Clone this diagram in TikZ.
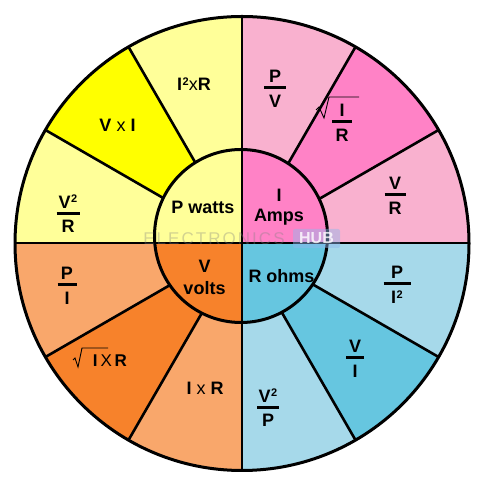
\documentclass[tikz,border=0pt]{standalone}
\usepackage{fontspec}
\setmainfont{Liberation Sans}
\definecolor{ylight}{HTML}{FFFF99}
\definecolor{ydark}{HTML}{FFFF00}
\definecolor{plight}{HTML}{F9B1CF}
\definecolor{pdark}{HTML}{FF82C6}
\definecolor{blight}{HTML}{A6D9EA}
\definecolor{bdark}{HTML}{66C6E0}
\definecolor{olight}{HTML}{F9A76B}
\definecolor{odark}{HTML}{F7822B}
\definecolor{wmblue}{HTML}{8EB8EE}
\newcommand\frc[3][22pt]{\vbox{\offinterlineskip\halign{\hfil##\hfil\cr #2\cr\noalign{\kern3.5pt}\rule{#1}{3pt}\cr\noalign{\kern6pt}#3\cr}}}
\newcommand\tx[1]{{\mdseries #1}}
\newcommand\sq{\kern0.6pt\raisebox{5.3pt}{\fontsize{11}{11}\selectfont 2}}
\begin{document}
\begin{tikzpicture}[x=1pt,y=1pt,
  sep/.style={line width=2.6pt,black},
  rim/.style={line width=3pt,black},
  txt/.style={font=\fontsize{18}{20}\selectfont\bfseries,inner sep=0pt,align=center},
  rad/.style={line width=0.9pt,black,line join=miter},
  wm/.style={font=\fontsize{17}{20}\selectfont,inner sep=0pt,text=gray,opacity=0.35}]
\useasboundingbox (0,0) rectangle (482,486);
\coordinate (O) at (242,242.5);
\coordinate (C) at (241,250);
\def\R{227}
\def\r{86.5}
% outer sectors
\foreach \a/\c in {90/ylight,120/ydark,150/ylight,180/olight,210/odark,240/olight,270/blight,300/bdark,330/blight,0/plight,30/pdark,60/plight}
  \fill[\c] (O) -- ++(\a:\R) arc[start angle=\a, end angle=\a+30, radius=\R] -- cycle;
% separators between sectors
\foreach \a in {30,60,120,150,210,240,300,330}
  \draw[sep] (O) -- ++(\a:\R);
% inner circle quadrants
\begin{scope}
  \clip (C) circle[radius=\r];
  \fill[ylight] (140,243) rectangle (242,345);
  \fill[pdark] (242,243) rectangle (345,345);
  \fill[odark] (140,243) rectangle (242,150);
  \fill[bdark] (242,243) rectangle (345,150);
\end{scope}
% axes
\draw[sep] (242,15.5) -- (242,469.5);
\draw[sep] (15,243) -- (469,243);
\draw[rim] (C) circle[radius=\r];
\draw[rim] (O) circle[radius=\R];
% watermark
\node[wm] (wmtext) at (214,247) {\addfontfeature{LetterSpace=12}ELECTRONICS};
\node[fill=wmblue,opacity=0.45,rounded corners=2pt,minimum width=47pt,minimum height=19pt,inner sep=0pt,text=white,text opacity=0.8,font=\fontsize{16}{16}\selectfont\bfseries] (wmhub) at (316.5,247.5) {HUB};
% centre labels
\node[txt] (pw) at (203,279) {P watts};
\node[txt,font=\fontsize{18}{20}\selectfont\bfseries] (ia) at (279,278.6) {I\\Amps};
\node[txt,font=\fontsize{18}{22}\selectfont\bfseries] (vv) at (204.5,208.5) {V\\volts};
\node[txt] (ro) at (281.5,210) {R ohms};
% P quadrant
\node[txt] (p1) at (194,401.5) {I\sq\tx{x}R};
\node[txt] (p2) at (117.5,361) {V \tx{x} I};
\node[txt] (p3) at (68,272) {\frc[23pt]{V\sq}{R}};
% I quadrant
\node[txt] (i1) at (275,397) {\frc{P}{V}};
\node[txt] (i2) at (342,363.5) {\frc[20pt]{I}{R}};
\draw[rad] (316,376) -- (319,379) -- (324,368) -- (329,389) -- (359,389);
\node[txt] (i3) at (395,290) {\frc[21pt]{V}{R}};
% R quadrant
\node[txt] (r1) at (397,201) {\frc[27pt]{P}{I\sq}};
\node[txt] (r2) at (355,127) {\frc[18pt]{V}{I}};
\node[txt] (r3) at (268,78) {\frc{V\sq}{P}};
% V quadrant
\node[txt] (v1) at (67,200) {\frc[19pt]{P}{I}};
\node[txt,font=\fontsize{17}{20}\selectfont\bfseries] (v2) at (110,125) {I\,\tx{X}\,R};
\draw[rad] (73,126) -- (75,128) -- (78,119) -- (82,138) -- (108,138);
\node[txt] (v3) at (205,98) {I \tx{x} R};
\end{tikzpicture}
\end{document}
